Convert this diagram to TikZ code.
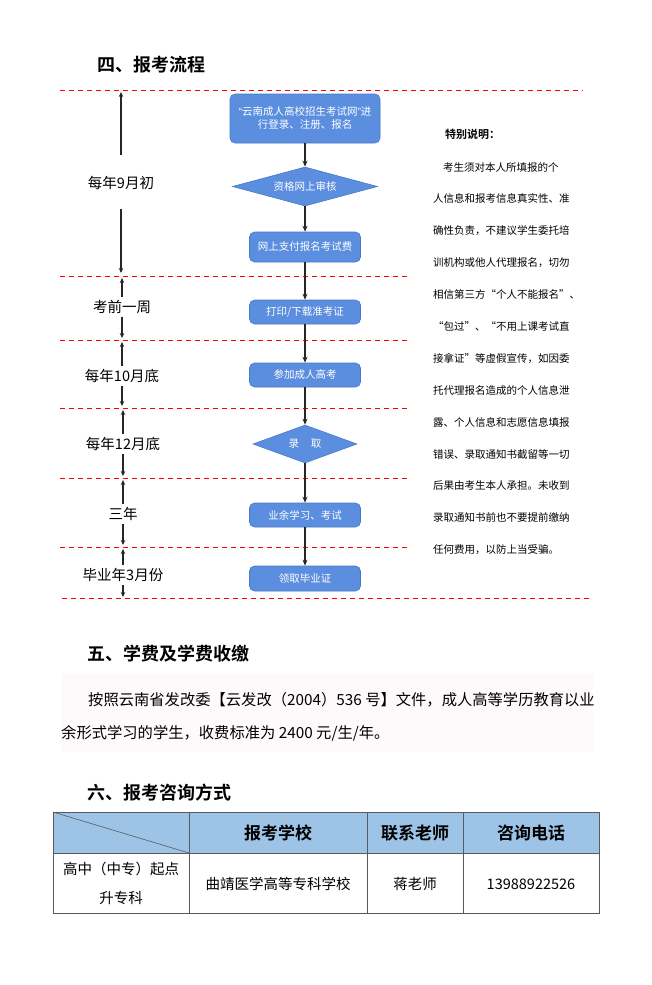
\documentclass[tikz,border=0pt]{standalone}
\usepackage{fontspec}
\setmainfont{Noto Sans CJK SC}[BoldFont=* Bold]
\newfontfamily\latinfont{Liberation Sans}
\usetikzlibrary{shapes.geometric,arrows.meta}

\definecolor{boxblue}{RGB}{91,142,222}
\definecolor{boxedge}{RGB}{72,120,200}
\definecolor{headblue}{RGB}{157,195,230}
\definecolor{gridgray}{RGB}{90,90,90}
\definecolor{parabg}{RGB}{254,250,251}

\tikzset{
  stepbox/.style={rectangle, rounded corners=5pt, fill=boxblue, draw=boxedge, line width=0.6pt,
    text=white, font=\fontsize{10.5}{13}\selectfont, align=center, inner sep=0pt},
  checkbox/.style={diamond, fill=boxblue, draw=boxedge, line width=0.6pt,
    text=white, font=\fontsize{10.5}{13}\selectfont, inner sep=0pt},
  flow/.style={-{Stealth[length=6pt,width=5pt]}, line width=1.1pt, black!85},
  timeline/.style={-{Stealth[length=5pt,width=4.5pt]}, line width=1.1pt, black!85},
  period/.style={font=\fontsize{14.5}{16}\selectfont, inner sep=3pt},
  cutline/.style={red, dash pattern=on 5pt off 4pt, line width=0.9pt},
  heading/.style={font=\fontsize{18}{20}\bfseries\selectfont, anchor=west, inner sep=0pt},
  note/.style={font=\fontsize{10.5}{12}\selectfont, anchor=west, inner sep=0pt},
  body/.style={font=\fontsize{15.3}{16}\selectfont, anchor=west, inner sep=0pt},
  cell/.style={font=\fontsize{14.5}{29}\selectfont, align=center, inner sep=0pt},
  headcell/.style={font=\fontsize{17}{20}\bfseries\selectfont, inner sep=0pt},
}

\begin{document}
\begin{tikzpicture}[x=1pt, y=-1pt]
\useasboundingbox (0,0) rectangle (652,985);

% section four
\node[heading] (h4) at (97,65) {四、报考流程};

\draw[cutline] (60,90) -- (583,90);
\draw[cutline] (60,276) -- (410,276);
\draw[cutline] (60,340) -- (410,340);
\draw[cutline] (60,408) -- (410,408);
\draw[cutline] (60,478) -- (410,478);
\draw[cutline] (60,547) -- (410,547);
\draw[cutline] (62,598) -- (590,598);

% time line on the left
\node[period] (sept) at (121,183) {每年9月初};
\node[period] (week) at (122,307) {考前一周};
\node[period] (oct) at (122,376) {每年10月底};
\node[period] (dec) at (123,444) {每年12月底};
\node[period] (three) at (123,514) {三年};
\node[period] (march) at (123,575) {毕业年3月份};

\coordinate (septtop) at (121,92);
\coordinate (septbot) at (121,273);
\coordinate (weektop) at (122,278);
\coordinate (weekbot) at (122,338);
\coordinate (octtop) at (122,342);
\coordinate (octbot) at (122,406);
\coordinate (dectop) at (123,410);
\coordinate (decbot) at (123,476);
\coordinate (threetop) at (123,480);
\coordinate (threebot) at (123,545);
\coordinate (marchtop) at (123,549);
\coordinate (marchbot) at (123,597);

\draw[timeline, shorten <=18pt] (sept) -- (septtop);
\draw[timeline, shorten <=16pt] (sept) -- (septbot);
\draw[timeline] (week) -- (weektop);
\draw[timeline] (week) -- (weekbot);
\draw[timeline] (oct) -- (octtop);
\draw[timeline] (oct) -- (octbot);
\draw[timeline] (dec) -- (dectop);
\draw[timeline] (dec) -- (decbot);
\draw[timeline] (three) -- (threetop);
\draw[timeline] (three) -- (threebot);
\draw[timeline] (march) -- (marchtop);
\draw[timeline] (march) -- (marchbot);

% steps
\node[stepbox, minimum width=150pt, minimum height=49pt] (reg) at (305,118.5)
  {{\latinfont“}云南成人高校招生考试网{\latinfont”}进\\行登录、注册、报名};
\node[checkbox, shape aspect=3.7, minimum width=145pt, minimum height=39pt] (check) at (305,186.5) {资格网上审核};
\node[stepbox, minimum width=111pt, minimum height=30pt] (pay) at (305,247) {网上支付报名考试费};
\node[stepbox, minimum width=111pt, minimum height=24pt] (print) at (305,312) {打印/下载准考证};
\node[stepbox, minimum width=111pt, minimum height=24pt] (exam) at (305,375) {参加成人高考};
\node[checkbox, shape aspect=2.7, minimum width=104pt, minimum height=38pt] (admit) at (305,444) {录\hspace{12pt}取};
\node[stepbox, minimum width=111pt, minimum height=24pt] (study) at (305,515) {业余学习、考试};
\node[stepbox, minimum width=111pt, minimum height=25pt] (grad) at (305,578.5) {领取毕业证};

\draw[flow] (reg) -- (check);
\draw[flow] (check) -- (pay);
\draw[flow] (pay) -- (print);
\draw[flow] (print) -- (exam);
\draw[flow] (exam) -- (admit);
\draw[flow] (admit) -- (study);
\draw[flow] (study) -- (grad);

% remark on the right
\node[note, font=\fontsize{11}{12}\bfseries\selectfont] (remark) at (445,134) {特别说明：};
\node[note] (r1) at (443,167) {考生须对本人所填报的个};
\foreach \t [count=\i from 2] in {人信息和报考信息真实性、准, 确性负责，不建议学生委托培,
  训机构或他人代理报名，切勿, 相信第三方“个人不能报名”、, “包过”、“不用上课考试直,
  接拿证”等虚假宣传，如因委, 托代理报名造成的个人信息泄, 露、个人信息和志愿信息填报,
  错误、录取通知书截留等一切, 后果由考生本人承担。未收到, 录取通知书前也不要提前缴纳,
  任何费用，以防上当受骗。}
  \node[note] (r\i) at (433,{167+(\i-1)*31.9}) {\t};

% section five
\node[heading] (h5) at (87,654) {五、学费及学费收缴};
\fill[parabg] (61,673) rectangle (593,752);
\node[body] (fee1) at (88,700) {按照云南省发改委【云发改（2004）536 号】文件，成人高等学历教育以业};
\node[body] (fee2) at (61,733) {余形式学习的学生，收费标准为 2400 元/生/年。};

% section six
\node[heading] (h6) at (87,793) {六、报考咨询方式};
\fill[headblue] (53,812) rectangle (599,853);
\draw[gridgray, line width=0.8pt] (53,812) rectangle (599,913);
\draw[gridgray, line width=0.8pt] (53,853) -- (599,853);
\draw[gridgray, line width=0.8pt] (189,812) -- (189,913);
\draw[gridgray, line width=0.8pt] (367,812) -- (367,913);
\draw[gridgray, line width=0.8pt] (463,812) -- (463,913);
\draw[gridgray, line width=0.6pt] (53,812) -- (189,853);

\node[headcell] (school) at (278,833) {报考学校};
\node[headcell] (teacher) at (415,833) {联系老师};
\node[headcell] (phone) at (531,833) {咨询电话};
\node[cell] (level) at (121,883.5) {高中（中专）起点\\升专科};
\node[cell] (schoolname) at (278,884) {曲靖医学高等专科学校};
\node[cell] (teachername) at (415,884) {蒋老师};
\node[cell] (phonenum) at (531,884) {13988922526};

\end{tikzpicture}
\end{document}
